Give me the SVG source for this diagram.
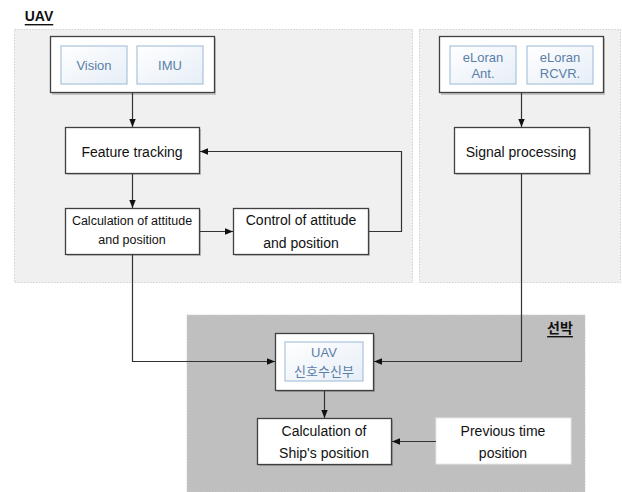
<svg xmlns="http://www.w3.org/2000/svg" width="622" height="492" viewBox="0 0 622 492">
<defs>
<style>
text{font-family:"Liberation Sans","Noto Sans CJK KR",sans-serif;text-anchor:middle;dominant-baseline:central;fill:#111}
.panel{fill:#f0f0f0;stroke:#c9d1da;stroke-width:1;stroke-dasharray:1.5 1.5}
.ship{fill:#bfbfbf;stroke:#c9c9c9;stroke-width:1;stroke-dasharray:1.5 1.5}
.box{fill:#fff;stroke:#404040;stroke-width:1.3}
.shadow{fill:#000;opacity:0.18}
.sub{fill:url(#g);stroke:#a9c3dd;stroke-width:1.2}
.subt{fill:#5b7ea8;font-size:13px}
.t{font-size:14px}
.ts{font-size:12.5px}
.lbl{font-size:14px;font-weight:bold;text-decoration:underline}
.c{fill:none;stroke:#333;stroke-width:1.2;marker-end:url(#ah)}
</style>
<linearGradient id="g" x1="0" y1="0" x2="1" y2="1">
<stop offset="0" stop-color="#ffffff"/>
<stop offset="1" stop-color="#e6eef7"/>
</linearGradient>
<marker id="ah" viewBox="0 0 10 10" refX="10" refY="5" markerWidth="8" markerHeight="8" markerUnits="userSpaceOnUse" orient="auto">
<path d="M0,1 L10,5 L0,9 z" fill="#111"/>
</marker>
</defs>

<g id="uav-panel">
<rect class="panel" x="14.5" y="29.5" width="398" height="253"/>
<text class="lbl" x="39" y="16">UAV</text>
</g>
<g id="eloran-panel">
<rect class="panel" x="419.5" y="29.5" width="201" height="253"/>
</g>
<g id="ship-panel">
<rect class="ship" x="187" y="315" width="398" height="177"/>
<text class="lbl" x="560" y="328">선박</text>
</g>

<g id="sensors">
<rect class="shadow" x="52" y="38" width="164" height="57"/>
<rect class="box" x="50.5" y="36.5" width="164" height="56"/>
<rect class="sub" x="61" y="46" width="66" height="38"/>
<text class="subt" x="94" y="65">Vision</text>
<rect class="sub" x="137" y="46" width="66" height="38"/>
<text class="subt" x="170" y="65">IMU</text>
</g>

<g id="eloran">
<rect class="shadow" x="441" y="38" width="164" height="57"/>
<rect class="box" x="439.5" y="36.5" width="164" height="56"/>
<rect class="sub" x="450" y="46" width="66" height="38"/>
<text class="subt" x="483" y="57">eLoran</text>
<text class="subt" x="483" y="73">Ant.</text>
<rect class="sub" x="527" y="46" width="66" height="38"/>
<text class="subt" x="560" y="57">eLoran</text>
<text class="subt" x="560" y="73">RCVR.</text>
</g>

<g id="feature">
<rect class="shadow" x="67" y="129" width="134" height="46"/>
<rect class="box" x="65.5" y="127.5" width="134" height="46"/>
<text class="t" x="132" y="152">Feature tracking</text>
</g>

<g id="signal">
<rect class="shadow" x="456" y="129" width="135" height="46"/>
<rect class="box" x="454.5" y="127.5" width="135" height="46"/>
<text class="t" x="521" y="152">Signal processing</text>
</g>

<g id="calc">
<rect class="shadow" x="67" y="210" width="134" height="46"/>
<rect class="box" x="65.5" y="208.5" width="134" height="46"/>
<text class="ts" x="132" y="221">Calculation of attitude</text>
<text class="ts" x="132" y="240">and position</text>
</g>

<g id="control">
<rect class="shadow" x="235" y="210" width="135" height="46"/>
<rect class="box" x="233.5" y="208.5" width="135" height="46"/>
<text class="t" x="301" y="220">Control of attitude</text>
<text class="t" x="301" y="243">and position</text>
</g>

<g id="receiver">
<rect class="shadow" x="277" y="335" width="98" height="57"/>
<rect class="box" x="275.5" y="333.5" width="98" height="57"/>
<rect class="sub" x="285" y="342" width="78" height="39"/>
<text class="subt" x="324" y="352">UAV</text>
<text class="subt" x="324" y="371">신호수신부</text>
</g>

<g id="ship-calc">
<rect class="shadow" x="259" y="420" width="134" height="46"/>
<rect class="box" x="257.5" y="418.5" width="134" height="46"/>
<text class="t" x="324" y="431">Calculation of</text>
<text class="t" x="324" y="453">Ship's position</text>
</g>

<g id="previous">
<rect x="436" y="418" width="135" height="46" fill="#fff" stroke="#e8e8e8" stroke-width="1"/>
<text class="t" x="503" y="431">Previous time</text>
<text class="t" x="503" y="453">position</text>
</g>

<g id="connectors">
<path class="c" d="M132.5,93 V127"/>
<path class="c" d="M132.5,174 V208"/>
<path class="c" d="M200,231.5 H233"/>
<path class="c" d="M369,231.5 H401.5 V151.5 H200"/>
<path class="c" d="M521.5,93 V127"/>
<path class="c" d="M132.5,255 V361.5 H275"/>
<path class="c" d="M521.5,174 V361.5 H374"/>
<path class="c" d="M324.5,391 V418"/>
<path class="c" d="M436,441.5 H392"/>
</g>
</svg>
